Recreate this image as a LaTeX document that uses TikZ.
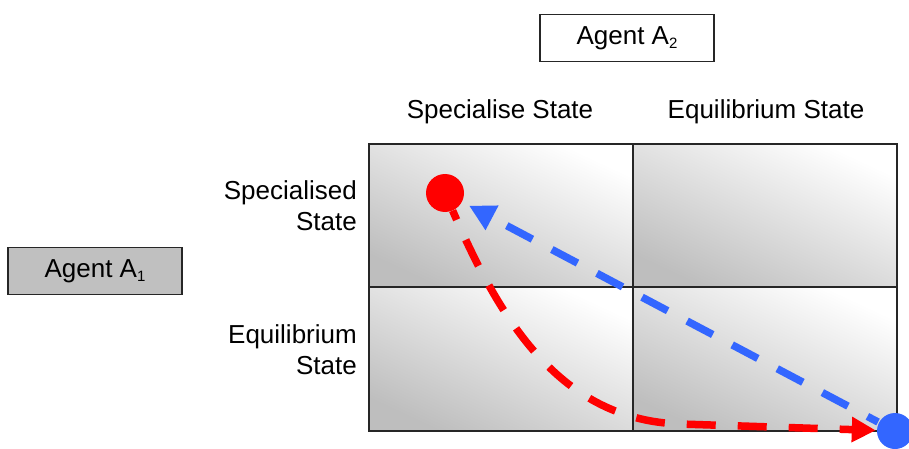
\documentclass[tikz,border=0pt]{standalone}
\usepackage{fontspec}
\setmainfont{Liberation Sans}
\usetikzlibrary{arrows.meta}
\definecolor{cellgray}{RGB}{190,190,190}
\definecolor{boxgray}{RGB}{192,192,192}
\definecolor{myblue}{RGB}{51,102,255}
\definecolor{myred}{RGB}{255,0,0}
\newcommand{\subnum}[1]{\raisebox{-0.3ex}{\fontsize{15}{15}\selectfont #1}}
\begin{document}
\begin{tikzpicture}[x=1pt,y=-1pt,
  lbl/.style={font=\fontsize{26}{31}\selectfont, inner sep=0pt},
  agentbox/.style={draw=black!85, line width=1.5pt, minimum width=174pt, minimum height=47pt, inner sep=0pt, font=\fontsize{26}{31}\selectfont},
  cell/.style={top color=white, bottom color=cellgray, shading angle=-25},
  gridline/.style={line width=1.6pt, draw=black!85},
  dot/.style={circle, minimum size=38pt, inner sep=0pt},
  flow/.style={line width=7.5pt, dash pattern=on 29pt off 22pt},
]
\useasboundingbox (0,0) rectangle (909,449);
% cells
\shade[cell] (369,144) rectangle (633,287);
\shade[cell] (633,144) rectangle (897,287);
\shade[cell] (369,287) rectangle (633,431);
\shade[cell] (633,287) rectangle (897,431);
\draw[gridline] (369,144) rectangle (897,431);
\draw[gridline] (633,144) -- (633,431);
\draw[gridline] (369,287) -- (897,287);
% labels
\node[agentbox] (a2) at (627,38) {Agent A\subnum{2}};
\node[agentbox, fill=boxgray] (a1) at (95,271) {Agent A\subnum{1}};
\node[lbl] (h1) at (500,112) {Specialise State};
\node[lbl] (h2) at (766,112) {Equilibrium State};
\node[lbl, anchor=east, align=right] (r1) at (357,206) {Specialised\\State};
\node[lbl, anchor=east, align=right] (r2) at (357,350) {Equilibrium\\State};
% dots
\node[dot] (r) at (445,193) {};
\node[dot] (b) at (895,431) {};
% connectors
\draw[flow, myred, dash phase=19pt, -{Triangle[length=24pt,width=24pt]}]
  (r) .. controls (500,320) and (560,420) .. (680,424) -- (b);
\draw[flow, myblue, dash phase=17pt, shorten >=8pt, -{Triangle[length=26pt,width=26pt]}]
  (b) -- (r);
\fill[myred] (r.center) circle (19pt);
\fill[myblue] (b.center) circle (18pt);
\end{tikzpicture}
\end{document}
